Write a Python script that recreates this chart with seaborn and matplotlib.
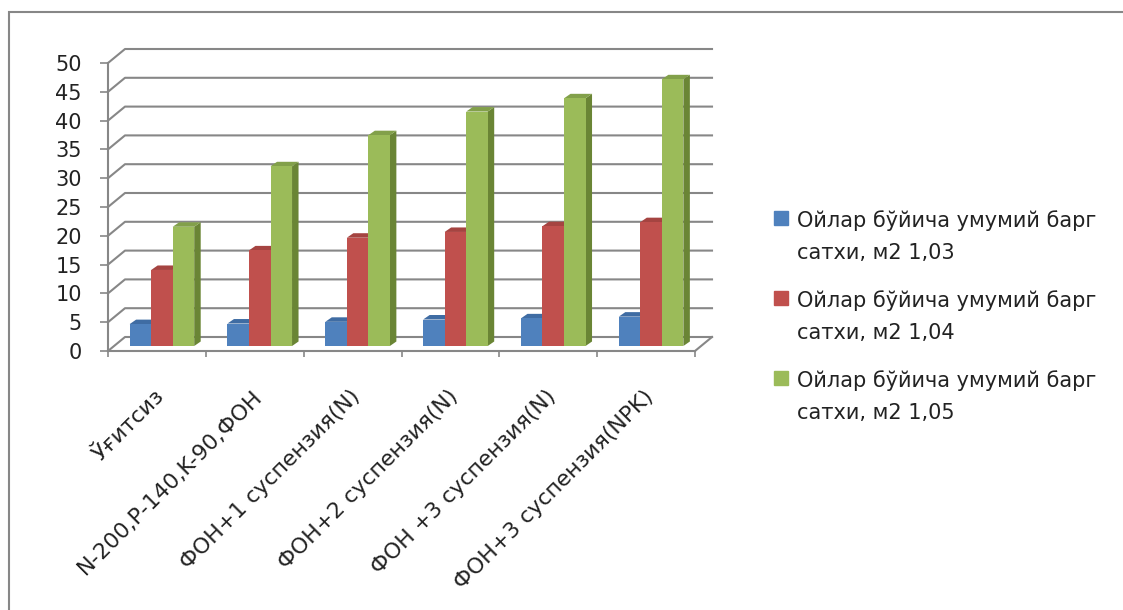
import matplotlib
matplotlib.use("Agg")
import pandas as pd
import matplotlib.pyplot as plt
from matplotlib.patches import Polygon, Rectangle
from matplotlib.lines import Line2D
from matplotlib.transforms import ScaledTranslation, IdentityTransform
import seaborn as sns

categories = ["Ўғитсиз", "N-200,P-140,K-90,ФОН", "ФОН+1 суспензия(N)",
              "ФОН+2 суспензия(N)", "ФОН +3 суспензия(N)", "ФОН+3 суспензия(NPK)"]
series = ["Ойлар бўйича умумий барг\nсатхи, м2 1,03",
          "Ойлар бўйича умумий барг\nсатхи, м2 1,04",
          "Ойлар бўйича умумий барг\nсатхи, м2 1,05"]
vals_103 = [3.8, 3.9, 4.2, 4.6, 4.8, 5.1]
vals_104 = [13.2, 16.6, 18.8, 19.8, 20.8, 21.5]
vals_105 = [20.7, 31.2, 36.6, 40.7, 43.0, 46.3]
yticks = list(range(0, 51, 5))

front = ["#4F81BD", "#C0504D", "#9BBB59"]
side = ["#385D8A", "#8C3A38", "#6A8535"]
top = ["#3F6CA3", "#A54441", "#82A04A"]
grid_c = "#878787"

df = pd.DataFrame({
    "cat": categories * 3,
    "val": vals_103 + vals_104 + vals_105,
    "ser": [series[0]] * 6 + [series[1]] * 6 + [series[2]] * 6,
})

plt.rcParams['font.family'] = ['DejaVu Sans']
fs = 15
DPI = 100
fig = plt.figure(figsize=(11.23, 6.10), dpi=DPI)
W, H = 1123, 610
ax = fig.add_axes([108 / W, (H - 351) / H, 587 / W, 288 / H])

sns.barplot(data=df, x="cat", y="val", hue="ser", palette=front, width=0.66,
            saturation=1, ax=ax, zorder=3, legend=False, linewidth=0)
ax.set_xlim(-0.5, 5.5)
ax.set_ylim(0, 50)


def px(dx, dy):
    return ScaledTranslation(dx / DPI, dy / DPI, fig.dpi_scale_trans)


ident = IdentityTransform()
back = ax.transData + px(17, 14)

# back wall grid + side wall diagonals
for v in yticks:
    p0 = ax.transData.transform((-0.5, v))
    p1 = back.transform((-0.5, v))
    p2 = back.transform((5.5, v))
    ax.add_line(Line2D([p0[0], p1[0], p2[0]], [p0[1], p1[1], p2[1]], color=grid_c,
                       lw=1.5, transform=ident, zorder=1, clip_on=False))
# floor right edge
q0 = ax.transData.transform((5.5, 0))
q1 = back.transform((5.5, 0))
ax.add_line(Line2D([q0[0], q1[0]], [q0[1], q1[1]], color=grid_c, lw=1.5,
                   transform=ident, zorder=1, clip_on=False))

# 3d look on the bars
bar_tr = ax.transData + px(5, 5)
ddx, ddy = 6.5, 4.5
for i, patch in enumerate(ax.patches):
    k = i // 6
    patch.set_transform(bar_tr)
    patch.set_clip_on(False)
    x0, w, h = patch.get_x(), patch.get_width(), patch.get_height()
    br = bar_tr.transform((x0 + w, 0))
    tl = bar_tr.transform((x0, h))
    tr = bar_tr.transform((x0 + w, h))
    sface = Polygon([br, tr, (tr[0] + ddx, tr[1] + ddy), (br[0] + ddx, br[1] + ddy)],
                    closed=True, fc=side[k], ec="none", transform=ident,
                    zorder=2.5, clip_on=False)
    tface = Polygon([tl, tr, (tr[0] + ddx, tr[1] + ddy), (tl[0] + ddx, tl[1] + ddy)],
                    closed=True, fc=top[k], ec="none", transform=ident,
                    zorder=2.5, clip_on=False)
    ax.add_patch(sface)
    ax.add_patch(tface)

for s in ["top", "right"]:
    ax.spines[s].set_visible(False)
for s in ["left", "bottom"]:
    ax.spines[s].set_color(grid_c)
    ax.spines[s].set_linewidth(1.5)
    ax.spines[s].set_zorder(1)

ax.set_yticks(yticks)
ax.tick_params(axis="y", length=5.8, width=1.2, color=grid_c, pad=13,
               labelsize=fs, labelcolor="#222222")
ax.set_xticks(range(6))
ax.set_xticks([i - 0.5 for i in range(7)], minor=True)
ax.tick_params(axis="x", which="major", length=0, pad=30.5)
ax.tick_params(axis="x", which="minor", length=4.5, width=1.2, color=grid_c)
ax.set_xticklabels(categories, rotation=45, ha="right", va="center",
                   rotation_mode="anchor", fontsize=15.8, color="#222222")
for lab in ax.get_xticklabels():
    lab.set_transform(lab.get_transform() + px(4, 0))
ax.set_xlabel("")
ax.set_ylabel("")
ax.set_facecolor("none")

handles = [Line2D([], [], marker="s", ls="", markersize=10.5, color=c) for c in front]
leg = fig.legend(handles, series, loc="upper left", bbox_to_anchor=(773 / W, 1 - 210 / H),
                 frameon=False, fontsize=fs, handlelength=0.75, handleheight=1.0,
                 handletextpad=0.4, labelspacing=1.3, borderpad=0, borderaxespad=0)
for t in leg.get_texts():
    t.set_linespacing(1.75)
    t.set_color("#222222")
# put each marker next to the first line of its label
for col in leg._legend_handle_box.get_children():
    for row in col.get_children():
        row.align = "top"

fig.add_artist(Rectangle((9 / W, -0.1), 1.2, (H - 12) / H + 0.1, transform=fig.transFigure,
                         fill=False, ec="#878787", lw=1.5))

fig.savefig("out.png", dpi=DPI)
